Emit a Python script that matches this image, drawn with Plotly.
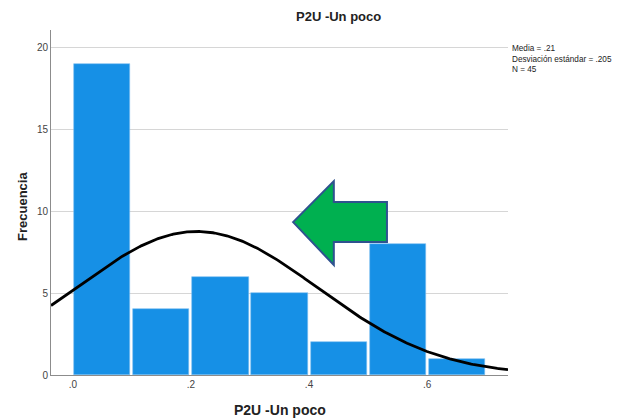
import numpy as np
import plotly.graph_objects as go

# histogram data
bin_starts = [0.0, 0.1, 0.2, 0.3, 0.4, 0.5, 0.6]
counts = [19, 4, 6, 5, 2, 8, 1]
bin_width = 0.1
mean = 0.21
sd = 0.205
n = 45
x_ticks = [0.0, 0.2, 0.4, 0.6]
x_tick_labels = [".0", ".2", ".4", ".6"]
y_ticks = [0, 5, 10, 15, 20]

x_range = [-0.037, 0.737]
y_range = [0, 21.05]

FONT = "Arial, Liberation Sans, sans-serif"

# fitted normal curve, scaled to counts
xs = np.linspace(x_range[0], x_range[1], 300)
ys = n * bin_width * np.exp(-0.5 * ((xs - mean) / sd) ** 2) / (sd * np.sqrt(2 * np.pi))

fig = go.Figure()
fig.add_trace(go.Bar(
    x=[b + bin_width / 2 for b in bin_starts], y=counts, width=bin_width * 0.95,
    marker=dict(color="#1690e6", line=dict(color="#7cc0f0", width=0.6)),
    hoverinfo="skip",
))
fig.add_trace(go.Scatter(x=xs, y=ys, mode="lines",
                         line=dict(color="black", width=2.8), hoverinfo="skip"))

# green arrow overlay
arrow = [(0.373, 9.33), (0.442, 11.83), (0.442, 10.55), (0.532, 10.55),
         (0.532, 8.11), (0.442, 8.11), (0.442, 6.71)]
path = "M " + " L ".join(f"{x},{y}" for x, y in arrow) + " Z"
fig.add_shape(type="path", path=path, xref="x", yref="y", layer="above",
              fillcolor="#00b050", line=dict(color="#2f528f", width=2))

# page body has an 8px margin, so the figure is 8px smaller than the window
fig.update_layout(
    width=615, height=410,
    margin=dict(l=43, r=115, t=22, b=43),
    paper_bgcolor="white", plot_bgcolor="white",
    showlegend=False, bargap=0,
    font=dict(family=FONT, color="#333"),
)
fig.update_xaxes(range=x_range, tickvals=x_ticks, ticktext=x_tick_labels,
                 showgrid=False, zeroline=False, showline=True, linecolor="#8c8c8c",
                 linewidth=1, ticks="", tickfont=dict(size=10, color="#444"))
fig.update_yaxes(range=y_range, tickvals=y_ticks, showgrid=True, gridcolor="#d6d6d6",
                 zeroline=False, showline=True, linecolor="#8c8c8c", linewidth=1,
                 ticks="", tickfont=dict(size=10, color="#444"))

fig.add_annotation(text="<b>P2U -Un poco</b>", xref="paper", yref="paper",
                   x=(338 - 51) / 457, y=1 + 13 / 345, showarrow=False,
                   font=dict(size=13, color="#222"), xanchor="center", yanchor="middle")
fig.add_annotation(text="<b>P2U -Un poco</b>", xref="paper", yref="paper",
                   x=(280 - 51) / 457, y=-(410 - 375) / 345, showarrow=False,
                   font=dict(size=14, color="#222"), xanchor="center", yanchor="middle")
fig.add_annotation(text="<b>Frecuencia</b>", xref="paper", yref="paper",
                   x=-(51 - 23) / 457, y=(375 - 207) / 345, showarrow=False, textangle=-90,
                   font=dict(size=13, color="#222"), xanchor="center", yanchor="middle")
fig.add_annotation(text=f"Media = {str(mean)[1:]}<br>Desviación estándar = {str(sd)[1:]}<br>N = {n}",
                   xref="paper", yref="paper", x=(510 - 51) / 457, y=(375 - 42) / 345,
                   showarrow=False, align="left", xanchor="left", yanchor="top",
                   font=dict(size=8.2, color="#222"))

fig.write_html("out.html")
